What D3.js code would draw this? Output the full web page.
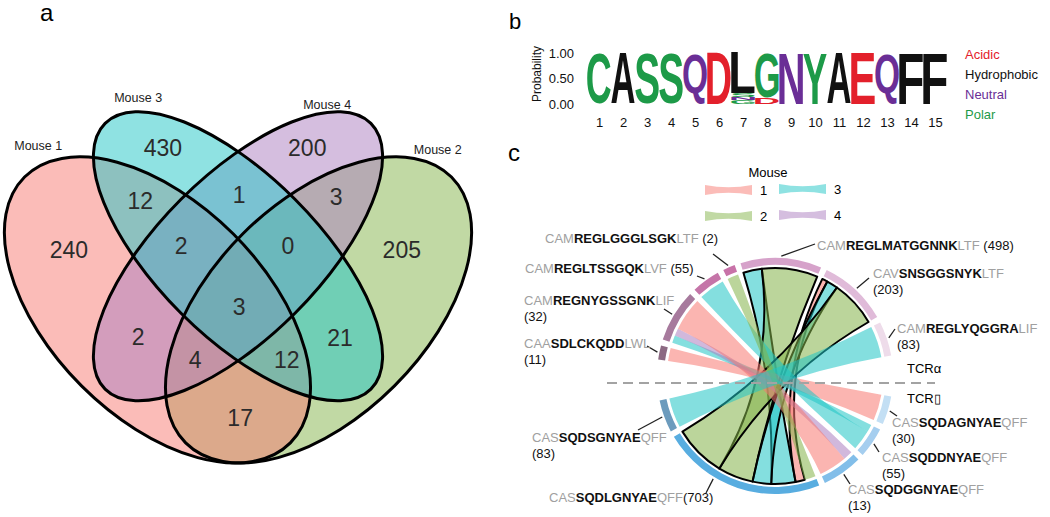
<!DOCTYPE html>
<html><head><meta charset="utf-8">
<script src="https://cdn.jsdelivr.net/npm/d3@7"></script>
<style>body{margin:0;background:#fff}svg{display:block}text{font-family:'Liberation Sans',Arial,sans-serif}</style>
</head><body><svg id="chart" width="1050" height="517"></svg>
<script>
// ================= DATA =================
// Mouse sets
const mouseNames = ["Mouse 1", "Mouse 2", "Mouse 3", "Mouse 4"];
const mouseIds = [1, 2, 3, 4];
const mouseColors = ["#F77971", "#83B349", "#1FC5C5", "#AB7DBF"];

// Venn regions (membership key -> count)
const vennRegions = ["1", "3", "4", "2", "13", "34", "24", "134", "234", "1234", "14", "23", "124", "123", "12"];
const vennCounts = [240, 430, 200, 205, 12, 1, 3, 2, 0, 3, 2, 21, 4, 12, 17];

// Sequence logo
const logoPositions = d3.range(1, 16);
const logoLetters = [["C"], ["A"], ["S"], ["S"], ["Q"], ["D"], ["L", "S", "N", "G"], ["G", "D"], ["N"], ["Y"], ["A"], ["E"], ["Q"], ["F"], ["F"]];
const logoProbs = [[1], [1], [1], [1], [1], [1], [0.80, 0.07, 0.06, 0.07], [0.88, 0.12], [1], [1], [1], [1], [1], [1], [1]];
const logoTicks = [0, 0.5, 1];
const aaClasses = ["Acidic", "Hydrophobic", "Neutral", "Polar"];
const classColors = ["#E3202B", "#111111", "#6A2E96", "#1D9A48"];
const aaClassOf = {D: 0, E: 0, A: 1, L: 1, F: 1, V: 1, I: 1, M: 1, W: 1, P: 1, Q: 2, N: 2, C: 3, S: 3, G: 3, T: 3, Y: 3};

// Chord: TCR alpha CDR3 (upper half, clockwise)
const alphaPre = ["CAA", "CAM", "CAM", "CAM", "CAM", "CAV", "CAM"];
const alphaCore = ["SDLCKQDD", "REGNYGSSGNK", "REGLTSSGQK", "REGLGGGLSGK", "REGLMATGGNNK", "SNSGGSNYK", "REGLYQGGRA"];
const alphaSuf = ["LWL", "LIF", "LVF", "LTF", "LTF", "LTF", "LIF"];
const alphaCounts = [11, 32, 55, 2, 498, 203, 83];
const alphaTrack = ["#8C6A83", "#A77A9D", "#C575A8", "#C872A8", "#D6A2CA", "#E0BBD9", "#EEDCEA"];
// TCR beta CDR3 (lower half, clockwise)
const betaPre = ["CAS", "CAS", "CAS", "CAS", "CAS"];
const betaCore = ["SQDAGNYAE", "SQDDNYAE", "SQDGGNYAE", "SQDLGNYAE", "SQDSGNYAE"];
const betaSuf = ["QFF", "QFF", "QFF", "QFF", "QFF"];
const betaCounts = [30, 55, 13, 703, 83];
const betaTrack = ["#C3DFF4", "#A5CEEF", "#82BEE9", "#58ADE0", "#6C9BBD"];
// Links (alpha -> beta), mouse, widths at each end, highlighted
const linkAlpha = [0, 1, 1, 1, 2, 3, 4, 4, 5, 5, 5, 6];
const linkBeta  = [0, 1, 2, 2, 1, 3, 3, 3, 3, 3, 3, 4];
const linkMouse = [1, 3, 4, 1, 3, 2, 3, 2, 1, 3, 2, 3];
const linkWA    = [7, 4, 4, 18, 14, 6, 10, 30, 3, 6, 25, 17];
const linkWB    = [14, 4, 5, 15, 11, 6, 13, 19, 5, 10, 28, 16];
const linkHL    = [0, 0, 0, 0, 0, 0, 1, 1, 1, 1, 1, 0];
const betaSlots = [[0], [1, 4], [2, 3], [5, 8, 6, 9, 7, 10], [11]];

// ================= DRAW =================
const svg = d3.select("#chart");
const mcol = id => mouseColors[mouseIds.indexOf(id)];

// Panel letters
svg.append("text").attr("x", 40).attr("y", 21).attr("font-size", 24).text("a");
svg.append("text").attr("x", 509).attr("y", 29).attr("font-size", 22).text("b");
svg.append("text").attr("x", 508).attr("y", 161).attr("font-size", 24).text("c");

// ---------- Panel a: Venn ----------
const ux = d3.scaleLinear().domain([0, 1]).range([238 - 268.5, 238 + 268.5]);
const uy = d3.scaleLinear().domain([0.185, 1.185]).range([463, 463 - 537]);
const uk = 537;
const ellLayout = [ // unit coords: cx, cy, a, b, rotation  (Mouse 1..4)
  [0.35, 0.47, 0.35, 0.20, 45],
  [0.65, 0.47, 0.35, 0.20, -45],
  [0.50, 0.57, 0.35, 0.15, 45],
  [0.50, 0.57, 0.35, 0.15, -45]
];
const drawOrder = [1, 0, 3, 2];
const gV = svg.append("g");
gV.selectAll("ellipse.fill").data(drawOrder).join("ellipse").attr("class", "fill")
  .attr("cx", i => ux(ellLayout[i][0])).attr("cy", i => uy(ellLayout[i][1]))
  .attr("rx", i => ellLayout[i][2] * uk).attr("ry", i => ellLayout[i][3] * uk)
  .attr("transform", i => `rotate(${ellLayout[i][4]} ${ux(ellLayout[i][0])} ${uy(ellLayout[i][1])})`)
  .attr("fill", i => mouseColors[i]).attr("fill-opacity", 0.5);
gV.selectAll("ellipse.line").data(drawOrder).join("ellipse").attr("class", "line")
  .attr("cx", i => ux(ellLayout[i][0])).attr("cy", i => uy(ellLayout[i][1]))
  .attr("rx", i => ellLayout[i][2] * uk).attr("ry", i => ellLayout[i][3] * uk)
  .attr("transform", i => `rotate(${ellLayout[i][4]} ${ux(ellLayout[i][0])} ${uy(ellLayout[i][1])})`)
  .attr("fill", "none").attr("stroke", "#000").attr("stroke-width", 3);
const vennLabelPos = {
  "1": [0.185, 0.582], "3": [0.360, 0.772], "4": [0.629, 0.772], "2": [0.805, 0.582],
  "13": [0.318, 0.673], "34": [0.502, 0.684], "24": [0.683, 0.680], "134": [0.394, 0.589],
  "234": [0.593, 0.589], "1234": [0.502, 0.476], "14": [0.314, 0.420], "23": [0.690, 0.418],
  "124": [0.420, 0.377], "123": [0.591, 0.377], "12": [0.504, 0.269]
};
gV.selectAll("text.cnt").data(vennRegions).join("text").attr("class", "cnt")
  .attr("x", d => ux(vennLabelPos[d][0])).attr("y", d => uy(vennLabelPos[d][1]))
  .attr("text-anchor", "middle").attr("dominant-baseline", "central")
  .attr("font-size", 23).attr("fill", "#2b2b2b")
  .text((d, i) => vennCounts[i]);
const setLabelPos = [[0.128, 0.768], [0.872, 0.760], [0.314, 0.857], [0.666, 0.844]];
gV.selectAll("text.set").data(mouseNames).join("text").attr("class", "set")
  .attr("x", (d, i) => ux(setLabelPos[i][0])).attr("y", (d, i) => uy(setLabelPos[i][1]))
  .attr("text-anchor", "middle").attr("font-size", 12.5).attr("fill", "#222").text(d => d);

// ---------- Panel b: sequence logo ----------
const lx = d3.scaleLinear().domain([1, 15]).range([599, 935]);
const ly = d3.scaleLinear().domain([0, 1]).range([104, 53]);
const gL = svg.append("g");
const yAx = gL.append("g").attr("transform", "translate(576,0)")
  .call(d3.axisLeft(ly).tickValues(logoTicks).tickFormat(d3.format(".2f")).tickSize(0).tickPadding(2));
yAx.select(".domain").remove();
yAx.selectAll("text").attr("font-size", 13).attr("fill", "#111").style("font-family", "'Liberation Sans',Arial,sans-serif");
gL.append("text").attr("transform", "translate(541,74) rotate(-90)").attr("text-anchor", "middle")
  .attr("font-size", 12).attr("fill", "#111").text("Probability");
const xAx = gL.append("g").attr("transform", "translate(0,116)")
  .call(d3.axisBottom(lx).tickValues(logoPositions).tickFormat(d3.format("d")).tickSize(0).tickPadding(2));
xAx.select(".domain").remove();
xAx.selectAll("text").attr("font-size", 13).attr("fill", "#111").style("font-family", "'Liberation Sans',Arial,sans-serif");

const cv = document.createElement("canvas").getContext("2d");
cv.font = "bold 200px 'Liberation Sans'";
function drawLetter(g, ch, x, y, w, h, color) {
  const m = cv.measureText(ch);
  const gw = m.actualBoundingBoxLeft + m.actualBoundingBoxRight;
  const gh = m.actualBoundingBoxAscent + m.actualBoundingBoxDescent;
  g.append("text").text(ch)
    .attr("font-size", 200).attr("font-weight", "bold").style("font-family", "'Liberation Sans'")
    .attr("fill", color)
    .attr("transform", `translate(${x},${y}) scale(${w / gw},${h / gh}) translate(${m.actualBoundingBoxLeft},${m.actualBoundingBoxAscent})`);
}
const LW = 23.5;
logoPositions.forEach((p, i) => {
  let top = ly(1);
  logoLetters[i].forEach((ch, j) => {
    const h = ly(0) - ly(logoProbs[i][j]);
    drawLetter(gL, ch, lx(p) - LW / 2, top, LW, h - (h > 10 ? 0.5 : 0.3), classColors[aaClassOf[ch]]);
    top += h;
  });
});
const legY = d3.scaleBand().domain(aaClasses).range([44, 124]);
gL.selectAll("text.cls").data(aaClasses).join("text").attr("class", "cls")
  .attr("x", 965).attr("y", d => legY(d) + legY.bandwidth() / 2).attr("dominant-baseline", "central")
  .attr("font-size", 13).attr("fill", (d, i) => classColors[i]).text(d => d);

// ---------- Panel c: chord ----------
const cx = 775, cy = 376;
const gC = svg.append("g").attr("transform", `translate(${cx},${cy})`);
const ang = d3.scaleLinear().domain([0, 360]).range([0, 2 * Math.PI]); // degrees -> radians
const GAP = 3;
function layout(widths, start) { let a = start; return widths.map(w => { const s = a; a += w + GAP; return [s, s + w]; }); }
const alphaW = alphaCore.map((_, i) => d3.sum(linkWA.filter((w, k) => linkAlpha[k] === i)));
const betaW = betaSlots.map(s => d3.sum(s, k => linkWB[k]));
const alphaSeg = layout(alphaW, 278);
const betaSeg = layout(betaW, 100);
const linkA = [], linkB = [];
alphaSeg.forEach((s, i) => { let a = s[0]; linkAlpha.forEach((al, k) => { if (al === i) { linkA[k] = [a, a + linkWA[k]]; a += linkWA[k]; } }); });
betaSeg.forEach((s, i) => { let a = s[0]; betaSlots[i].forEach(k => { linkB[k] = [a, a + linkWB[k]]; a += linkWB[k]; }); });

const RR = 108;
const ribbon = d3.ribbon().radius(RR);
const links = linkAlpha.map((_, k) => ({
  source: {startAngle: ang(linkA[k][0]), endAngle: ang(linkA[k][1])},
  target: {startAngle: ang(linkB[k][0]), endAngle: ang(linkB[k][1])},
  color: mcol(linkMouse[k]), hl: linkHL[k]
}));
const linkOrder = [...links.filter(l => l.hl), ...links.filter(l => !l.hl)];
gC.selectAll("path.rib").data(linkOrder).join("path").attr("class", "rib")
  .attr("d", ribbon).attr("fill", d => d.color).attr("fill-opacity", 0.55)
  .attr("stroke", d => d.hl ? "#000" : "none").attr("stroke-width", 2).attr("stroke-linejoin", "round");

const arc = d3.arc().innerRadius(111).outerRadius(118);
gC.selectAll("path.asg").data(alphaSeg).join("path").attr("class", "asg")
  .attr("d", d => arc({startAngle: ang(d[0]), endAngle: ang(d[1])})).attr("fill", (d, i) => alphaTrack[i]);
gC.selectAll("path.bsg").data(betaSeg).join("path").attr("class", "bsg")
  .attr("d", d => arc({startAngle: ang(d[0]), endAngle: ang(d[1])})).attr("fill", (d, i) => betaTrack[i]);

// dashed separator
svg.append("line").attr("x1", 607).attr("x2", 935).attr("y1", 383).attr("y2", 383)
  .attr("stroke", "#A3A3A3").attr("stroke-width", 2).attr("stroke-dasharray", "10,6");
svg.append("text").attr("x", 907).attr("y", 373).attr("font-size", 13).text("TCRα");
svg.append("text").attr("x", 907).attr("y", 403).attr("font-size", 13).text("TCR\u25AF");

// labels
const alphaLab = [ // text x, baseline y, two-line?, leader end
  {x: 524, y: 348, two: true, le: [647, 346]},
  {x: 524, y: 305, two: true, le: [664, 309]},
  {x: 525, y: 273, two: false, le: [697, 276]},
  {x: 545, y: 243, two: false, le: [713, 254]},
  {x: 817, y: 250, two: false, le: [815, 244]},
  {x: 873, y: 278, two: true, le: [869, 278]},
  {x: 897, y: 333, two: true, le: [895, 329]}
];
const betaLab = [
  {x: 892, y: 427, two: true, le: [897, 416]},
  {x: 882, y: 462, two: true, le: [879, 452]},
  {x: 848, y: 494, two: true, le: [850, 484]},
  {x: 549, y: 502, two: false, nospace: true, le: [706, 493], la: 211},
  {x: 532, y: 442, two: true, le: [638, 430]}
];
function drawLabels(pre, core, suf, counts, seg, lab) {
  lab.forEach((L, i) => {
    const a = ang(L.la !== undefined ? L.la : (seg[i][0] + seg[i][1]) / 2);
    svg.append("line").attr("x1", cx + 120 * Math.sin(a)).attr("y1", cy - 120 * Math.cos(a))
      .attr("x2", L.le[0]).attr("y2", L.le[1]).attr("stroke", "#222").attr("stroke-width", 1.3);
    const t = svg.append("text").attr("x", L.x).attr("y", L.y).attr("font-size", 13);
    t.append("tspan").attr("fill", "#A0A0A0").text(pre[i]);
    t.append("tspan").attr("fill", "#111").attr("font-weight", "bold").text(core[i]);
    t.append("tspan").attr("fill", "#A0A0A0").text(suf[i]);
    if (L.two) {
      svg.append("text").attr("x", L.x).attr("y", L.y + 16).attr("font-size", 13).attr("fill", "#111").text(`(${counts[i]})`);
    } else {
      t.append("tspan").attr("fill", "#111").text((L.nospace ? "" : " ") + `(${counts[i]})`);
    }
  });
}
drawLabels(alphaPre, alphaCore, alphaSuf, alphaCounts, alphaSeg, alphaLab);
drawLabels(betaPre, betaCore, betaSuf, betaCounts, betaSeg, betaLab);

// legend
svg.append("text").attr("x", 768).attr("y", 177).attr("text-anchor", "middle").attr("font-size", 13).text("Mouse");
const legPos = {1: [705, 185], 3: [779, 184], 2: [705, 211], 4: [779, 210]};
function legRib(x, y, w, h) {
  const p = d3.path(); p.moveTo(x, y); p.quadraticCurveTo(x + w / 2, y + h * 0.45, x + w, y);
  p.lineTo(x + w, y + h); p.quadraticCurveTo(x + w / 2, y + h * 0.55, x, y + h); p.closePath(); return p.toString();
}
mouseIds.forEach(id => {
  const [x, y] = legPos[id];
  svg.append("path").attr("d", legRib(x, y, 47, 10)).attr("fill", mcol(id)).attr("fill-opacity", 0.5);
  svg.append("text").attr("x", x + 55).attr("y", y + 5).attr("dominant-baseline", "central").attr("font-size", 13).text(id);
});
</script></body></html>
